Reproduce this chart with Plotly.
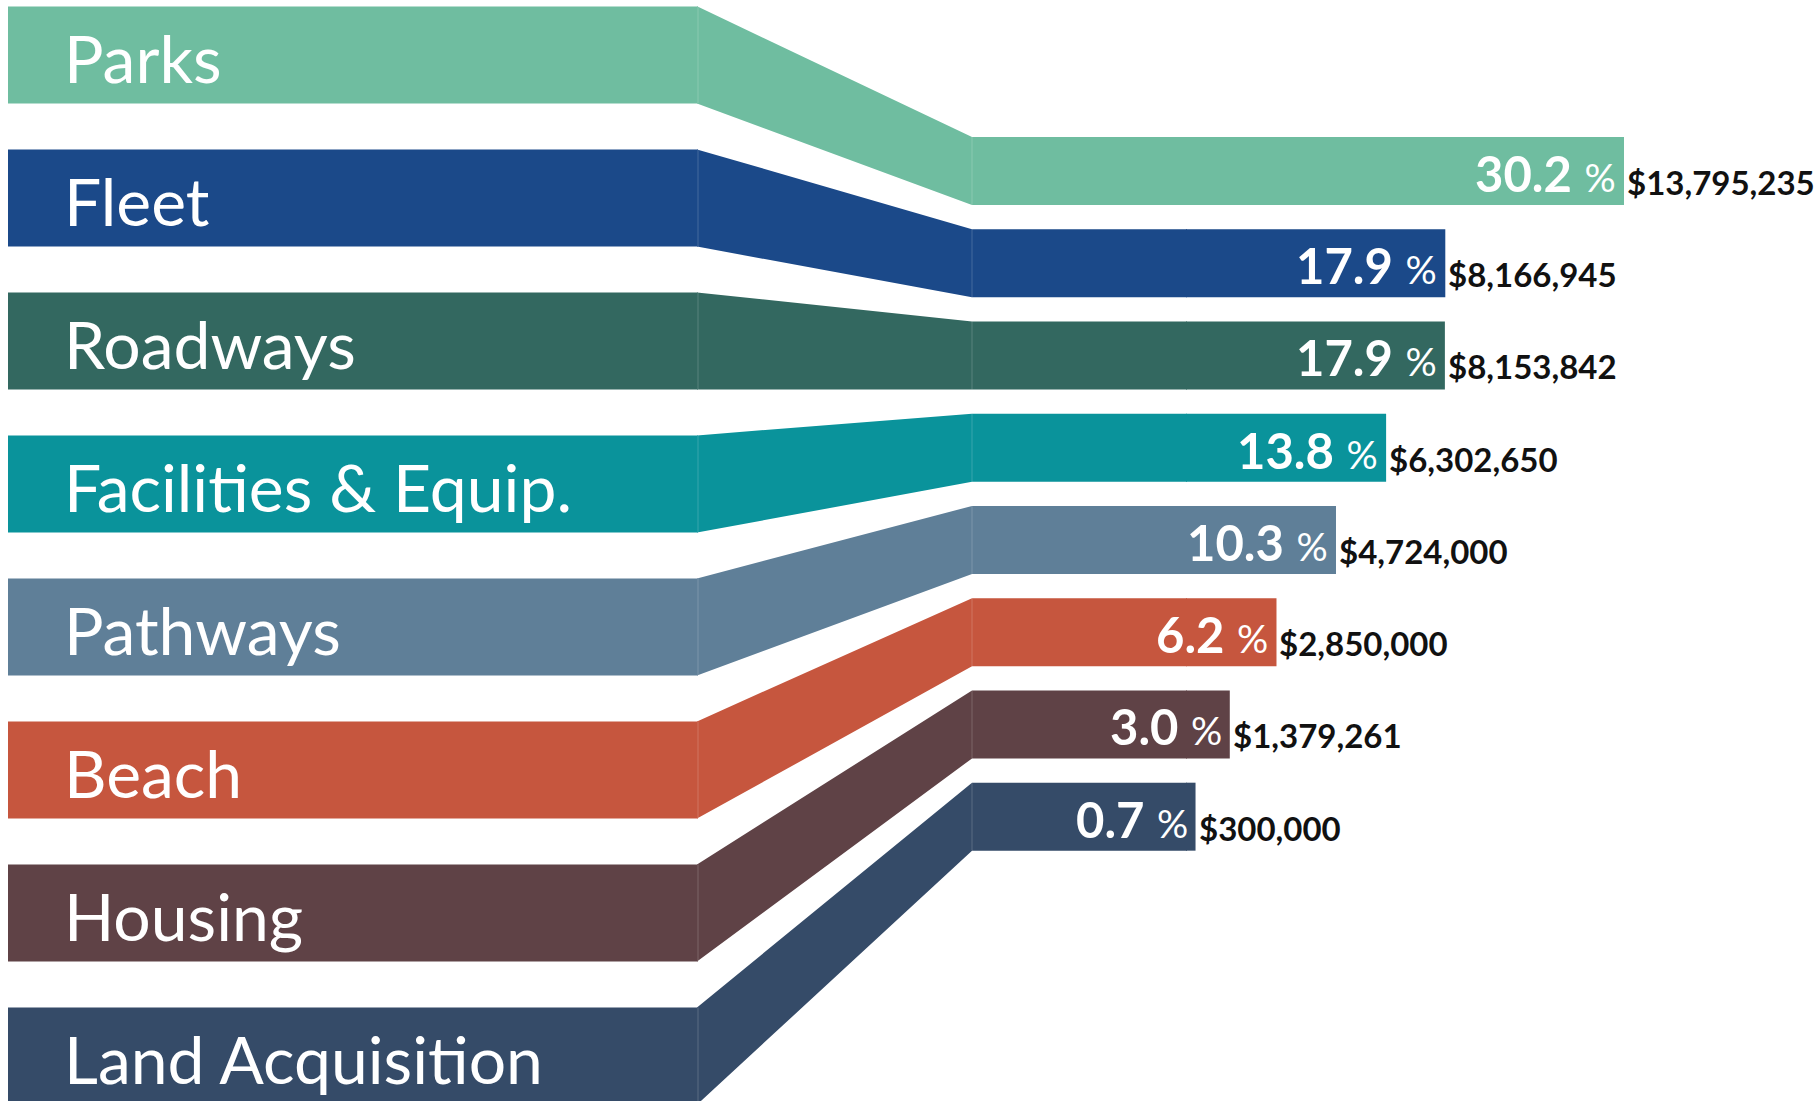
import plotly.graph_objects as go

# Capital plan by program area
categories = ["Parks", "Fleet", "Roadways", "Facilities & Equip.",
              "Pathways", "Beach", "Housing", "Land Acquisition"]
amounts = [13795235, 8166945, 8153842, 6302650, 4724000, 2850000, 1379261, 300000]

# one colour per program area
colors = ["#6FBDA0", "#1B4989", "#336860", "#0A939B",
          "#5F7F98", "#C6563E", "#5F4246", "#354B68"]

total = sum(amounts)
shares = [100.0 * a / total for a in amounts]

W, H = 1817, 1101
FONT = "Lato, 'Open Sans', sans-serif"

# ---- page geometry (pixels) ----
BAND_X0, BAND_X1 = 8, 698        # left label bands
BAR_X0 = 972                     # ribbons meet the bars here
TAB = 214                        # ribbon tail before the value bar starts
BAR_END_MAX = 1624               # right end of the longest bar
BAND_C0, BAND_PITCH, BAND_FRAC = 55.0, 143.0, 0.68
BAR_C0, BAR_PITCH, BAR_FRAC = 171.0, 92.24, 0.737

n = len(categories)

# value axis: zero sits TAB pixels right of BAR_X0
px_per_unit = (BAR_END_MAX - BAR_X0 - TAB) / max(amounts)
x_min = -TAB / px_per_unit
x_max = (W - BAR_X0 - TAB) / px_per_unit


def cat_range(c0, pitch):
    top = -c0 / pitch
    return [top + H / pitch, top]


def px_to_paper_x(px):
    return px / W


def px_to_paper_y(py):
    return 1 - py / H


fig = go.Figure()

# left label bands
fig.add_trace(go.Bar(
    x=[1] * n, y=categories, orientation="h",
    marker=dict(color=colors, line=dict(width=0)),
    width=BAND_FRAC, xaxis="x2", yaxis="y2", hoverinfo="skip",
))

# value bars
fig.add_trace(go.Bar(
    x=amounts, y=categories, orientation="h",
    marker=dict(color=colors, line=dict(width=0)),
    width=BAR_FRAC, xaxis="x", yaxis="y",
    customdata=[f"{s:.1f}%" for s in shares],
    hovertemplate="%{y}: $%{x:,}<br>%{customdata}<extra></extra>",
))

shapes = []
x_zero_px = BAR_X0 + TAB
for i, col in enumerate(colors):
    bt = BAND_C0 + i * BAND_PITCH - BAND_FRAC * BAND_PITCH / 2
    bb = BAND_C0 + i * BAND_PITCH + BAND_FRAC * BAND_PITCH / 2
    rt = BAR_C0 + i * BAR_PITCH - BAR_FRAC * BAR_PITCH / 2
    rb = BAR_C0 + i * BAR_PITCH + BAR_FRAC * BAR_PITCH / 2
    pts = [(BAND_X1 - 1, bt), (BAR_X0, rt), (x_zero_px + 1, rt),
           (x_zero_px + 1, rb), (BAR_X0, rb), (BAND_X1 - 1, bb)]
    path = "M " + " L ".join(f"{px_to_paper_x(x):.5f},{px_to_paper_y(y):.5f}" for x, y in pts) + " Z"
    shapes.append(dict(type="path", path=path, xref="paper", yref="paper",
                       fillcolor=col, line=dict(width=0), layer="below"))
    # faint seams where the band pieces join
    for sx, y0, y1 in [(BAND_X1, bt, bb), (BAR_X0, rt, rb)]:
        shapes.append(dict(type="line", xref="paper", yref="paper",
                           x0=px_to_paper_x(sx), x1=px_to_paper_x(sx),
                           y0=px_to_paper_y(y0), y1=px_to_paper_y(y1),
                           line=dict(color="rgba(255,255,255,0.18)", width=1),
                           layer="above"))

annotations = []
for cat, amt, s in zip(categories, amounts, shares):
    annotations.append(dict(
        x=0, y=cat, xref="x2", yref="y2", xanchor="left", yanchor="middle",
        xshift=54, yshift=-2, showarrow=False, text=cat,
        font=dict(family=FONT, size=66, color="white"),
    ))
    annotations.append(dict(
        x=amt, y=cat, xref="x", yref="y", xanchor="right", yanchor="middle",
        xshift=-6, yshift=-2, showarrow=False,
        text=f"<b>{s:.1f}</b> <span style='font-size:39px'>%</span>",
        font=dict(family=FONT, size=49, color="white"),
    ))
    annotations.append(dict(
        x=amt, y=cat, xref="x", yref="y", xanchor="left", yanchor="middle",
        xshift=1, yshift=-11, showarrow=False,
        text=f"<b>${amt:,}</b>",
        font=dict(family=FONT, size=33, color="#111111"),
    ))

hidden = dict(showgrid=False, zeroline=False, showticklabels=False,
              showline=False, ticks="", fixedrange=True)

fig.update_layout(
    width=W, height=H,
    margin=dict(l=0, r=0, t=0, b=0),
    paper_bgcolor="white", plot_bgcolor="rgba(0,0,0,0)",
    showlegend=False, barmode="overlay",
    xaxis=dict(domain=[BAR_X0 / W, 1], range=[x_min, x_max], anchor="y", **hidden),
    yaxis=dict(domain=[0, 1], type="category", range=cat_range(BAR_C0, BAR_PITCH),
               anchor="x", **hidden),
    xaxis2=dict(domain=[BAND_X0 / W, BAND_X1 / W], range=[0, 1], anchor="y2", **hidden),
    yaxis2=dict(domain=[0, 1], type="category", range=cat_range(BAND_C0, BAND_PITCH),
                anchor="x2", overlaying="y", **hidden),
    shapes=shapes, annotations=annotations,
    font=dict(family=FONT),
)

fig.write_html("out.html", config={"displayModeBar": False})
